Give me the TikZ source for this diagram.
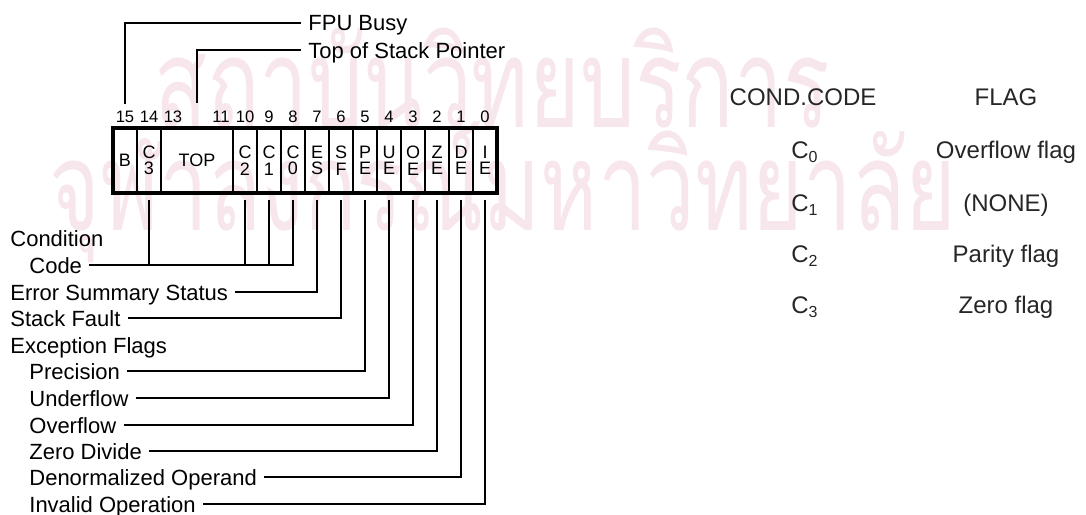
\documentclass[tikz,border=0pt]{standalone}
\usepackage{fontspec}
\setmainfont{Liberation Sans}
\newfontfamily\thaifont[Script=Thai]{Loma}
\usetikzlibrary{positioning}
\definecolor{wmpink}{HTML}{F7E6EC}
\tikzset{
  every picture/.style={x=0.5pt, y=-0.5pt},
  cell/.style={draw, line width=1.2pt, minimum width=#1, minimum height=32.5pt, inner sep=0pt, outer sep=0pt, align=center, font=\fontsize{9}{8.3}\selectfont},
  cell/.default=12pt,
  bitno/.style={font=\fontsize{8.3}{8}\selectfont, inner sep=0pt, outer sep=0pt, text depth=0pt},
  lbl/.style={font=\fontsize{11}{13}\selectfont, anchor=west, inner xsep=3.5pt, inner ysep=0pt, text height=8pt, text depth=0pt},
  tbl/.style={font=\fontsize{12}{14}\selectfont, text=black!85, inner sep=0pt, text height=8.6pt, text depth=0pt},
  lead/.style={line width=0.95pt},
  leadb/.style={line width=1.4pt},
  wmark/.style={text=wmpink, font=\thaifont\fontsize{62}{62}\selectfont, xscale=0.7, inner sep=0pt},
}

\begin{document}
\begin{tikzpicture}
  \useasboundingbox (0,0) rectangle (1086,514);
  % watermark
  \node[wmark] (wm1) at (492,78) {สถาบันวิทยบริการ};
  \node[wmark] (wm2) at (503,192) {จุฬาลงกรณ์มหาวิทยาลัย};

  % status word
  \node[cell] (B) at (125,160.5) {B};
  \node[cell, right=0pt of B] (C3) {C\\3};
  \node[cell=36pt, right=0pt of C3] (TOP) {TOP};
  \node[cell, right=0pt of TOP] (C2) {C\\2};
  \node[cell, right=0pt of C2] (C1) {C\\1};
  \node[cell, right=0pt of C1] (C0) {C\\0};
  \node[cell, right=0pt of C0] (ES) {E\\S};
  \node[cell, right=0pt of ES] (SF) {S\\F};
  \node[cell, right=0pt of SF] (PE) {P\\E};
  \node[cell, right=0pt of PE] (UE) {U\\E};
  \node[cell, right=0pt of UE] (OE) {O\\E};
  \node[cell, right=0pt of OE] (ZE) {Z\\E};
  \node[cell, right=0pt of ZE] (DE) {D\\E};
  \node[cell, right=0pt of DE] (IE) {I\\E};
  \draw[line width=1.6pt] (B.north west) rectangle (IE.south east);

  % bit numbers
  \node[bitno, above=3pt of B] (n15) {15};
  \node[bitno, above=3pt of C3] (n14) {14};
  \node[bitno, above=3pt of TOP.north west, xshift=6pt] (n13) {13};
  \node[bitno, above=3pt of TOP.north east, xshift=-6pt] (n11) {11};
  \foreach \c/\n in {C2/10, C1/9, C0/8, ES/7, SF/6, PE/5, UE/4, OE/3, ZE/2, DE/1, IE/0}
    \node[bitno, above=3pt of \c] (n\n) {\n};

  % labels above
  \node[lbl] (lbFPU) at (301,23) {FPU Busy};
  \node[lbl] (lbTOS) at (301,50) {Top of Stack Pointer};
  \draw[lead] ([yshift=3.5pt]n15.north) |- (lbFPU.west);
  \draw[leadb] ([yshift=12.5pt]TOP.north) |- (lbTOS.west);

  % labels below
  \node[lbl] (lbCond) at (3,238) {Condition};
  \node[lbl] (lbCode) at (22,265) {Code};
  \node[lbl] (lbES) at (3,292) {Error Summary Status};
  \node[lbl] (lbSF) at (3,318) {Stack Fault};
  \node[lbl] (lbExc) at (3,345) {Exception Flags};
  \node[lbl] (lbPE) at (22,371) {Precision};
  \node[lbl] (lbUE) at (22,398) {Underflow};
  \node[lbl] (lbOE) at (22,425) {Overflow};
  \node[lbl] (lbZE) at (22,451) {Zero Divide};
  \node[lbl] (lbDE) at (22,477) {Denormalized Operand};
  \node[lbl] (lbIE) at (22,504) {Invalid Operation};

  \draw[lead] (lbCode.east) -| ([yshift=-3.5pt]C0.south);
  \foreach \c in {C3, C2, C1}
    \draw[lead] ([yshift=-3.5pt]\c.south) -- (\c |- lbCode.east);
  \draw[lead] (lbES.east) -| ([yshift=-3.5pt]ES.south);
  \draw[leadb] (lbSF.east) -| ([yshift=-3.5pt]SF.south);
  \foreach \c in {PE, UE, OE, ZE, DE, IE}
    \draw[leadb] (lb\c.east) -| ([yshift=-3.5pt]\c.south);

  % condition code table
  \node[tbl] (hdCode) at (803,97) {COND.CODE};
  \node[tbl] (hdFlag) at (1006,97) {FLAG};
  \node[tbl] (cc0) at (805,150) {C\textsubscript{0}};
  \node[tbl] (fl0) at (1006,150) {Overflow flag};
  \node[tbl] (cc1) at (805,203) {C\textsubscript{1}};
  \node[tbl] (fl1) at (1006,203) {(NONE)};
  \node[tbl] (cc2) at (805,254) {C\textsubscript{2}};
  \node[tbl] (fl2) at (1006,254) {Parity flag};
  \node[tbl] (cc3) at (805,305) {C\textsubscript{3}};
  \node[tbl] (fl3) at (1006,305) {Zero flag};
\end{tikzpicture}
\end{document}
